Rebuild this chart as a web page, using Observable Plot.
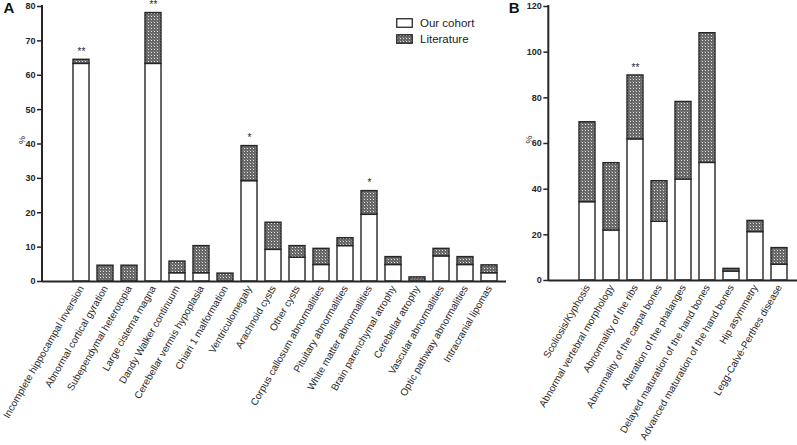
<!DOCTYPE html>
<html><head><meta charset="utf-8">
<script src="https://cdn.jsdelivr.net/npm/d3@7"></script>
<script src="https://cdn.jsdelivr.net/npm/@observablehq/plot@0.6"></script>
<style>
body{margin:0;background:#fff;font-family:"Liberation Sans",Arial,sans-serif;}
#wrap{position:relative;width:797px;height:445px;overflow:hidden;}
#wrap > .panel{position:absolute;top:0;}
#legend{position:absolute;left:396px;top:15px;font-size:11.5px;color:#222;line-height:16px;}
#legend div{display:flex;align-items:center;}
#legend svg{margin-right:7px;}
</style></head><body>
<svg width="0" height="0" style="position:absolute">
  <defs>
    <pattern id="hatch" width="3" height="3" patternUnits="userSpaceOnUse">
      <rect width="3" height="3" fill="#666"/>
      <rect x="1" y="1" width="1" height="1" fill="#e2e2e2"/>
      <rect x="0" y="0" width="1" height="1" fill="#8c8c8c"/>
    </pattern>
  </defs>
</svg>
<div id="wrap"></div>
<script>
const seriesNames = ["Our cohort", "Literature"];

const catsA = [
  "Incomplete hippocampal inversion", "Abnormal cortical gyration", "Subependymal heterotopia",
  "Large cisterna magna", "Dandy Walker continuum", "Cerebellar vermis hypoplasia",
  "Chiari 1 malformation", "Ventriculomegaly", "Arachnoid cysts", "Other cysts",
  "Corpus callosum abnormalities", "Pituitary abnormalities", "White matter abnormalities",
  "Brain parenchymal atrophy", "Cerebellar atrophy", "Vascular abnormalities",
  "Optic pathway abnormalities", "Intracranial lipomas"
];
const cohortA = [63.3, 0, 0, 63.3, 2.4, 2.4, 0, 29.2, 9.2, 6.9, 4.8, 10.3, 19.4, 4.8, 0, 7.3, 4.8, 2.4];
const litA    = [1.2, 4.6, 4.6, 14.8, 3.4, 7.9, 2.3, 10.2, 7.9, 3.4, 4.7, 2.3, 6.9, 2.3, 1.2, 2.2, 2.3, 2.3];
const sigA    = ["**", "", "", "**", "", "", "", "*", "", "", "", "", "*", "", "", "", "", ""];
const yTicksA = [0, 10, 20, 30, 40, 50, 60, 70, 80];

const catsB = [
  "Scoliosis/Kyphosis", "Abnormal vertebral morphology", "Abnormality of the ribs",
  "Abnormality of the carpal bones", "Alteration of the phalanges",
  "Delayed maturation of the hand bones", "Advanced maturation of the hand bones",
  "Hip asymmetry", "Legg-Calvé-Perthes disease"
];
const cohortB = [34.3, 21.9, 61.8, 25.7, 44.2, 51.5, 3.9, 21.2, 6.9];
const litB    = [35.0, 29.5, 28.0, 17.8, 34.0, 56.8, 1.2, 4.9, 7.3];
const sigB    = ["", "", "**", "", "", "", "", "", ""];
const yTicksB = [0, 20, 40, 60, 80, 100, 120];

const INK = "#262626";

function longData(cats, cohort, lit) {
  const out = [];
  cats.forEach((c, i) => {
    out.push({cat: c, series: seriesNames[0], value: cohort[i]});
    out.push({cat: c, series: seriesNames[1], value: lit[i]});
  });
  return out;
}
function sigData(cats, cohort, lit, sig) {
  return cats.map((c, i) => ({cat: c, total: cohort[i] + lit[i], sig: sig[i]})).filter(d => d.sig);
}

function yAxisLine() {
  return (index, scales, values, dims) => {
    const g = d3.create("svg:g");
    g.append("line")
      .attr("x1", dims.marginLeft).attr("x2", dims.marginLeft)
      .attr("y1", dims.marginTop - 1).attr("y2", dims.height - dims.marginBottom + 1)
      .attr("stroke", INK).attr("stroke-width", 2);
    return g.node();
  };
}

function panel({cats, cohort, lit, sig, yTicks, yMax, width, marginLeft, marginRight, marginBottom, xRange, letter, letterDx}) {
  return Plot.plot({
    width, height: 445,
    marginLeft, marginRight, marginTop: 6, marginBottom,
    style: {background: "transparent", fontFamily: "'Liberation Sans', Arial, sans-serif", overflow: "visible", color: INK},
    x: {domain: cats, range: xRange, paddingInner: 0.32, paddingOuter: 0, align: 0.5},
    y: {domain: [0, yMax]},
    color: {domain: seriesNames, range: ["white", "url(#hatch)"]},
    marks: [
      Plot.barY(longData(cats, cohort, lit), {x: "cat", y: "value", fill: "series", stroke: INK, strokeWidth: 1.4}),
      Plot.ruleY([0], {stroke: INK, strokeWidth: 2}),
      yAxisLine(),
      Plot.axisY({ticks: yTicks, tickSize: 5, tickPadding: 2, fontSize: 9, fontWeight: "bold", label: null, stroke: INK, strokeWidth: 1.5}),
      Plot.axisX({tickSize: 0, tickPadding: 5, tickRotate: -60, fontSize: 10, label: null}),
      Plot.text(sigData(cats, cohort, lit, sig), {x: "cat", y: "total", text: "sig", dy: -8, fontSize: 10, fill: INK}),
      Plot.text(["%"], {frameAnchor: "left", dx: -20, rotate: -90, fontSize: 9, fill: INK}),
      Plot.text([letter], {frameAnchor: "top-left", dx: letterDx, dy: 2, textAnchor: "start", lineAnchor: "middle", fontSize: 15, fontWeight: "bold", fill: "#111"})
    ]
  });
}

const wrap = document.getElementById("wrap");

const pA = panel({
  cats: catsA, cohort: cohortA, lit: litA, sig: sigA, yTicks: yTicksA, yMax: 80,
  width: 510, marginLeft: 42, marginRight: 4, marginBottom: 164,
  xRange: [70, 501.3], letter: "A", letterDx: -39
});
const dA = document.createElement("div"); dA.className = "panel"; dA.style.left = "0px"; dA.appendChild(pA); wrap.appendChild(dA);

const pB = panel({
  cats: catsB, cohort: cohortB, lit: litB, sig: sigB, yTicks: yTicksB, yMax: 120,
  width: 297, marginLeft: 48.3, marginRight: 0, marginBottom: 165,
  xRange: [76.7, 289.5], letter: "B", letterDx: -40
});
const dB = document.createElement("div"); dB.className = "panel"; dB.style.left = "500px"; dB.appendChild(pB); wrap.appendChild(dB);

// legend
const legend = d3.select(wrap).append("div").attr("id", "legend");
[["white", seriesNames[0]], ["url(#hatch)", seriesNames[1]]].forEach(([fill, name]) => {
  const row = legend.append("div");
  const s = row.append("svg").attr("width", 17).attr("height", 10);
  s.append("rect").attr("x", 0.75).attr("y", 0.75).attr("width", 15.5).attr("height", 8.5)
    .attr("fill", fill).attr("stroke", INK).attr("stroke-width", 1.3);
  row.append("span").text(name);
});
</script>
</body></html>
